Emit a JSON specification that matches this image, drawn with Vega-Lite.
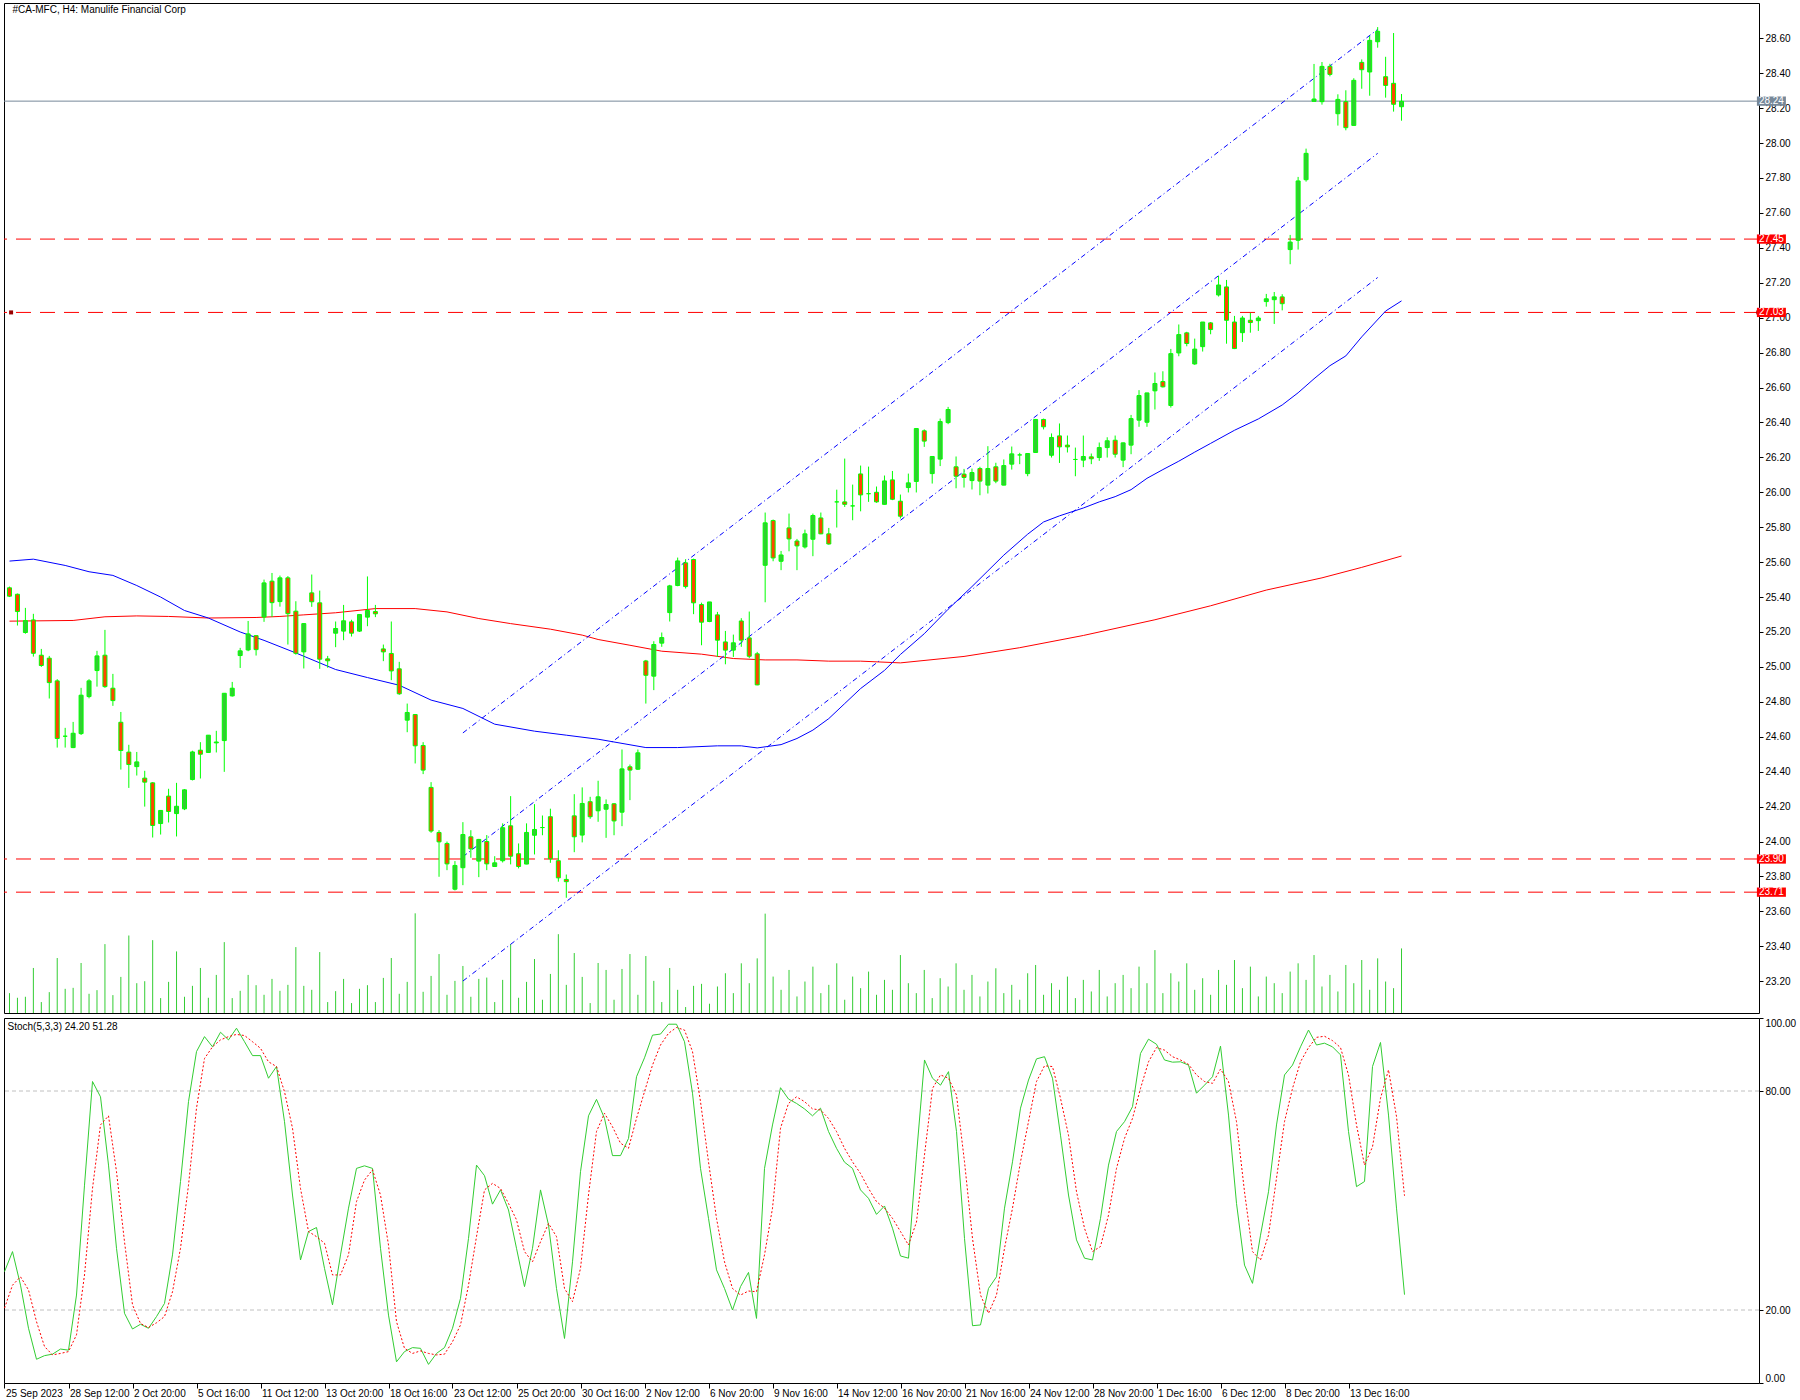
{
  "$schema": "https://vega.github.io/schema/vega-lite/v6.json",
  "background": "white",
  "padding": {"left": 2, "top": 2, "right": 0, "bottom": 0},
  "spacing": 3,
  "config": {
    "view": {"stroke": "#000000", "strokeWidth": 1},
    "axis": {"labelFont": "Liberation Sans", "labelFontSize": 10, "labelColor": "#000000", "tickColor": "#000000", "domain": false, "grid": false, "labelOverlap": false},
    "text": {"font": "Liberation Sans"}
  },
  "datasets": {
    "bars": [
      {"i":0,"o":25.453,"h":25.46,"l":25.40,"c":25.405,"v":60,"k":30.5,"d":20.5},
      {"i":1,"o":25.416,"h":25.42,"l":25.237,"c":25.317,"v":46,"k":36.0,"d":26.8},
      {"i":2,"o":25.197,"h":25.338,"l":25.19,"c":25.265,"v":49,"k":26.8,"d":29.1},
      {"i":3,"o":25.269,"h":25.304,"l":25.059,"c":25.078,"v":136,"k":15.0,"d":25.5},
      {"i":4,"o":25.067,"h":25.103,"l":25.0,"c":25.008,"v":33,"k":6.5,"d":16.8},
      {"i":5,"o":25.05,"h":25.063,"l":24.819,"c":24.91,"v":63,"k":7.5,"d":10.0},
      {"i":6,"o":24.92,"h":24.93,"l":24.538,"c":24.59,"v":166,"k":7.9,"d":7.7},
      {"i":7,"o":24.603,"h":24.651,"l":24.538,"c":24.603,"v":73,"k":9.3,"d":8.1},
      {"i":8,"o":24.538,"h":24.685,"l":24.535,"c":24.62,"v":76,"k":9.0,"d":8.6},
      {"i":9,"o":24.618,"h":24.88,"l":24.61,"c":24.838,"v":151,"k":24.1,"d":13.2},
      {"i":10,"o":24.83,"h":24.93,"l":24.82,"c":24.92,"v":58,"k":54.2,"d":29.6},
      {"i":11,"o":24.979,"h":25.092,"l":24.887,"c":25.063,"v":69,"k":82.6,"d":53.3},
      {"i":12,"o":25.067,"h":25.212,"l":24.88,"c":24.887,"v":208,"k":78.4,"d":70.7},
      {"i":13,"o":24.878,"h":24.96,"l":24.777,"c":24.807,"v":54,"k":59.7,"d":73.2},
      {"i":14,"o":24.683,"h":24.742,"l":24.412,"c":24.521,"v":109,"k":36.9,"d":57.9},
      {"i":15,"o":24.512,"h":24.554,"l":24.307,"c":24.441,"v":234,"k":19.1,"d":38.7},
      {"i":16,"o":24.429,"h":24.513,"l":24.378,"c":24.456,"v":90,"k":14.8,"d":21.4},
      {"i":17,"o":24.363,"h":24.405,"l":24.2,"c":24.34,"v":96,"k":16.1,"d":16.3},
      {"i":18,"o":24.336,"h":24.34,"l":24.023,"c":24.092,"v":220,"k":15.0,"d":15.2},
      {"i":19,"o":24.103,"h":24.18,"l":24.04,"c":24.178,"v":45,"k":18.2,"d":16.5},
      {"i":20,"o":24.26,"h":24.302,"l":24.109,"c":24.172,"v":94,"k":21.8,"d":18.2},
      {"i":21,"o":24.16,"h":24.336,"l":24.029,"c":24.202,"v":186,"k":35.1,"d":25.0},
      {"i":22,"o":24.187,"h":24.30,"l":24.18,"c":24.296,"v":49,"k":55.2,"d":36.9},
      {"i":23,"o":24.355,"h":24.52,"l":24.35,"c":24.513,"v":82,"k":77.1,"d":54.2},
      {"i":24,"o":24.523,"h":24.569,"l":24.361,"c":24.5,"v":136,"k":90.8,"d":75.3},
      {"i":25,"o":24.51,"h":24.61,"l":24.51,"c":24.609,"v":46,"k":94.9,"d":88.9},
      {"i":26,"o":24.565,"h":24.634,"l":24.51,"c":24.57,"v":115,"k":92.1,"d":92.1},
      {"i":27,"o":24.578,"h":24.85,"l":24.399,"c":24.849,"v":214,"k":96.1,"d":94.0},
      {"i":28,"o":24.834,"h":24.914,"l":24.83,"c":24.878,"v":45,"k":94.0,"d":94.9},
      {"i":29,"o":25.065,"h":25.109,"l":24.994,"c":25.092,"v":67,"k":97.2,"d":95.5},
      {"i":30,"o":25.097,"h":25.263,"l":25.09,"c":25.189,"v":115,"k":93.5,"d":95.2},
      {"i":31,"o":25.179,"h":25.18,"l":25.065,"c":25.099,"v":84,"k":89.7,"d":93.5},
      {"i":32,"o":25.286,"h":25.5,"l":25.258,"c":25.481,"v":55,"k":89.7,"d":91.7},
      {"i":33,"o":25.491,"h":25.538,"l":25.286,"c":25.368,"v":103,"k":83.5,"d":88.0},
      {"i":34,"o":25.374,"h":25.523,"l":25.345,"c":25.51,"v":67,"k":86.7,"d":86.7},
      {"i":35,"o":25.51,"h":25.52,"l":25.128,"c":25.305,"v":85,"k":71.6,"d":79.8},
      {"i":36,"o":25.319,"h":25.376,"l":25.07,"c":25.078,"v":199,"k":51.5,"d":69.8},
      {"i":37,"o":25.086,"h":25.25,"l":24.991,"c":25.248,"v":82,"k":33.7,"d":53.3},
      {"i":38,"o":25.424,"h":25.529,"l":25.344,"c":25.373,"v":70,"k":41.5,"d":41.5},
      {"i":39,"o":25.367,"h":25.437,"l":24.989,"c":25.044,"v":184,"k":42.6,"d":40.1},
      {"i":40,"o":25.046,"h":25.063,"l":24.995,"c":25.035,"v":33,"k":31.4,"d":38.3},
      {"i":41,"o":25.193,"h":25.26,"l":25.113,"c":25.22,"v":66,"k":21.4,"d":29.6},
      {"i":42,"o":25.205,"h":25.355,"l":25.153,"c":25.264,"v":103,"k":35.1,"d":29.6},
      {"i":43,"o":25.258,"h":25.27,"l":25.174,"c":25.193,"v":30,"k":47.9,"d":35.1},
      {"i":44,"o":25.205,"h":25.30,"l":25.2,"c":25.30,"v":73,"k":58.8,"d":49.7},
      {"i":45,"o":25.285,"h":25.518,"l":25.233,"c":25.323,"v":84,"k":59.5,"d":55.6},
      {"i":46,"o":25.317,"h":25.355,"l":25.285,"c":25.304,"v":33,"k":58.8,"d":58.4},
      {"i":47,"o":25.103,"h":25.128,"l":25.033,"c":25.086,"v":106,"k":36.9,"d":51.5},
      {"i":48,"o":25.077,"h":25.26,"l":24.924,"c":24.977,"v":166,"k":18.6,"d":37.8},
      {"i":49,"o":24.989,"h":25.029,"l":24.84,"c":24.846,"v":58,"k":5.8,"d":16.8},
      {"i":50,"o":24.695,"h":24.79,"l":24.626,"c":24.739,"v":94,"k":8.6,"d":9.5},
      {"i":51,"o":24.727,"h":24.73,"l":24.447,"c":24.548,"v":301,"k":9.7,"d":8.1},
      {"i":52,"o":24.55,"h":24.569,"l":24.386,"c":24.409,"v":64,"k":9.5,"d":8.8},
      {"i":53,"o":24.31,"h":24.34,"l":24.05,"c":24.06,"v":112,"k":5.1,"d":8.1},
      {"i":54,"o":24.052,"h":24.065,"l":23.798,"c":23.998,"v":178,"k":8.1,"d":7.7},
      {"i":55,"o":23.989,"h":24.0,"l":23.836,"c":23.872,"v":55,"k":9.7,"d":7.9},
      {"i":56,"o":23.727,"h":23.888,"l":23.72,"c":23.863,"v":97,"k":15.0,"d":11.3},
      {"i":57,"o":23.85,"h":24.111,"l":23.75,"c":24.04,"v":142,"k":23.2,"d":15.9},
      {"i":58,"o":24.027,"h":24.065,"l":23.907,"c":23.958,"v":49,"k":39.6,"d":26.8},
      {"i":59,"o":23.888,"h":24.015,"l":23.796,"c":24.012,"v":103,"k":59.7,"d":40.1},
      {"i":60,"o":24.0,"h":24.037,"l":23.836,"c":23.872,"v":107,"k":56.8,"d":52.9},
      {"i":61,"o":23.857,"h":23.916,"l":23.855,"c":23.878,"v":33,"k":49.0,"d":54.7},
      {"i":62,"o":23.89,"h":24.104,"l":23.88,"c":24.079,"v":100,"k":52.9,"d":53.3},
      {"i":63,"o":24.09,"h":24.26,"l":23.869,"c":23.916,"v":208,"k":47.4,"d":49.2},
      {"i":64,"o":23.93,"h":23.989,"l":23.846,"c":23.857,"v":46,"k":36.9,"d":44.7},
      {"i":65,"o":23.871,"h":24.104,"l":23.87,"c":24.052,"v":94,"k":26.4,"d":36.0},
      {"i":66,"o":24.036,"h":24.214,"l":23.926,"c":24.069,"v":163,"k":36.9,"d":33.2},
      {"i":67,"o":24.08,"h":24.149,"l":24.036,"c":24.08,"v":40,"k":52.9,"d":38.7},
      {"i":68,"o":24.142,"h":24.188,"l":23.878,"c":23.901,"v":118,"k":43.3,"d":43.7},
      {"i":69,"o":23.89,"h":23.95,"l":23.77,"c":23.792,"v":238,"k":25.9,"d":40.1},
      {"i":70,"o":23.783,"h":23.811,"l":23.678,"c":23.77,"v":85,"k":12.2,"d":25.9},
      {"i":71,"o":24.147,"h":24.271,"l":23.939,"c":24.027,"v":181,"k":33.2,"d":22.3},
      {"i":72,"o":24.037,"h":24.31,"l":23.995,"c":24.218,"v":109,"k":57.9,"d":31.4},
      {"i":73,"o":24.228,"h":24.256,"l":24.13,"c":24.142,"v":30,"k":73.2,"d":51.5},
      {"i":74,"o":24.176,"h":24.348,"l":24.113,"c":24.256,"v":151,"k":77.7,"d":68.9},
      {"i":75,"o":24.185,"h":24.241,"l":24.021,"c":24.212,"v":130,"k":72.5,"d":73.9},
      {"i":76,"o":24.216,"h":24.22,"l":24.036,"c":24.118,"v":40,"k":62.3,"d":70.2},
      {"i":77,"o":24.168,"h":24.527,"l":24.088,"c":24.416,"v":133,"k":62.3,"d":65.7},
      {"i":78,"o":24.428,"h":24.441,"l":24.237,"c":24.409,"v":178,"k":67.0,"d":64.3},
      {"i":79,"o":24.414,"h":24.527,"l":24.41,"c":24.508,"v":55,"k":83.9,"d":72.5},
      {"i":80,"o":25.034,"h":25.04,"l":24.79,"c":24.952,"v":172,"k":89.1,"d":79.8},
      {"i":81,"o":24.947,"h":25.147,"l":24.867,"c":25.128,"v":97,"k":95.3,"d":87.1},
      {"i":82,"o":25.136,"h":25.197,"l":25.115,"c":25.168,"v":33,"k":95.6,"d":92.6},
      {"i":83,"o":25.311,"h":25.47,"l":25.26,"c":25.464,"v":136,"k":98.3,"d":95.8},
      {"i":84,"o":25.466,"h":25.626,"l":25.462,"c":25.607,"v":70,"k":98.3,"d":97.4},
      {"i":85,"o":25.596,"h":25.617,"l":25.449,"c":25.46,"v":18,"k":93.5,"d":96.7},
      {"i":86,"o":25.615,"h":25.62,"l":25.302,"c":25.367,"v":82,"k":79.4,"d":90.8},
      {"i":87,"o":25.357,"h":25.368,"l":25.124,"c":25.256,"v":88,"k":58.8,"d":77.1},
      {"i":88,"o":25.26,"h":25.372,"l":25.256,"c":25.372,"v":28,"k":45.1,"d":60.6},
      {"i":89,"o":25.298,"h":25.315,"l":25.057,"c":25.153,"v":80,"k":31.0,"d":45.1},
      {"i":90,"o":25.143,"h":25.206,"l":25.015,"c":25.096,"v":120,"k":25.9,"d":33.2},
      {"i":91,"o":25.096,"h":25.185,"l":25.057,"c":25.138,"v":60,"k":20.0,"d":25.9},
      {"i":92,"o":25.263,"h":25.279,"l":25.115,"c":25.153,"v":150,"k":26.4,"d":24.1},
      {"i":93,"o":25.166,"h":25.317,"l":25.05,"c":25.061,"v":90,"k":30.3,"d":25.2},
      {"i":94,"o":25.075,"h":25.086,"l":24.895,"c":24.897,"v":165,"k":17.7,"d":25.0},
      {"i":95,"o":25.582,"h":25.884,"l":25.37,"c":25.825,"v":300,"k":58.8,"d":35.1},
      {"i":96,"o":25.838,"h":25.844,"l":25.605,"c":25.624,"v":110,"k":70.7,"d":47.9},
      {"i":97,"o":25.605,"h":25.664,"l":25.554,"c":25.641,"v":70,"k":80.9,"d":69.8},
      {"i":98,"o":25.796,"h":25.878,"l":25.662,"c":25.733,"v":130,"k":77.8,"d":76.6},
      {"i":99,"o":25.721,"h":25.733,"l":25.554,"c":25.693,"v":50,"k":76.6,"d":78.4},
      {"i":100,"o":25.687,"h":25.786,"l":25.678,"c":25.762,"v":95,"k":75.1,"d":77.1},
      {"i":101,"o":25.731,"h":25.878,"l":25.634,"c":25.867,"v":140,"k":73.2,"d":75.1},
      {"i":102,"o":25.853,"h":25.884,"l":25.76,"c":25.762,"v":60,"k":75.3,"d":74.8},
      {"i":103,"o":25.762,"h":25.796,"l":25.70,"c":25.704,"v":85,"k":68.9,"d":72.5},
      {"i":104,"o":25.945,"h":26.015,"l":25.798,"c":25.945,"v":150,"k":64.3,"d":68.9},
      {"i":105,"o":25.945,"h":26.193,"l":25.916,"c":25.931,"v":40,"k":60.5,"d":64.3},
      {"i":106,"o":25.922,"h":26.044,"l":25.84,"c":25.922,"v":110,"k":58.8,"d":60.6},
      {"i":107,"o":26.105,"h":26.153,"l":25.891,"c":25.985,"v":75,"k":52.9,"d":57.4},
      {"i":108,"o":25.992,"h":26.147,"l":25.945,"c":25.992,"v":125,"k":50.6,"d":53.3},
      {"i":109,"o":26.0,"h":26.033,"l":25.94,"c":25.945,"v":55,"k":46.2,"d":49.7},
      {"i":110,"o":25.931,"h":26.096,"l":25.93,"c":26.065,"v":100,"k":48.5,"d":47.9},
      {"i":111,"o":26.071,"h":26.122,"l":25.955,"c":25.96,"v":70,"k":42.4,"d":45.1},
      {"i":112,"o":25.949,"h":25.987,"l":25.85,"c":25.863,"v":175,"k":34.8,"d":41.5},
      {"i":113,"o":26.027,"h":26.107,"l":25.999,"c":26.054,"v":90,"k":34.2,"d":37.8},
      {"i":114,"o":26.062,"h":26.365,"l":25.999,"c":26.365,"v":60,"k":62.5,"d":44.1},
      {"i":115,"o":26.352,"h":26.36,"l":26.26,"c":26.293,"v":130,"k":88.5,"d":62.5},
      {"i":116,"o":26.107,"h":26.205,"l":26.05,"c":26.205,"v":45,"k":83.5,"d":80.7},
      {"i":117,"o":26.19,"h":26.422,"l":26.15,"c":26.405,"v":105,"k":81.6,"d":84.4},
      {"i":118,"o":26.399,"h":26.489,"l":26.39,"c":26.474,"v":80,"k":85.3,"d":83.5},
      {"i":119,"o":26.146,"h":26.205,"l":26.023,"c":26.092,"v":150,"k":68.9,"d":78.9},
      {"i":120,"o":26.104,"h":26.134,"l":26.027,"c":26.085,"v":70,"k":39.6,"d":60.6},
      {"i":121,"o":26.067,"h":26.136,"l":26.016,"c":26.113,"v":115,"k":15.7,"d":39.6},
      {"i":122,"o":26.136,"h":26.146,"l":25.983,"c":26.064,"v":50,"k":15.9,"d":24.1},
      {"i":123,"o":26.041,"h":26.264,"l":25.993,"c":26.136,"v":95,"k":25.9,"d":19.1},
      {"i":124,"o":26.146,"h":26.169,"l":26.052,"c":26.064,"v":135,"k":29.1,"d":24.1},
      {"i":125,"o":26.041,"h":26.188,"l":26.04,"c":26.153,"v":60,"k":47.9,"d":36.9},
      {"i":126,"o":26.161,"h":26.262,"l":26.13,"c":26.22,"v":85,"k":60.6,"d":47.9},
      {"i":127,"o":26.214,"h":26.226,"l":26.161,"c":26.214,"v":40,"k":75.3,"d":60.6},
      {"i":128,"o":26.107,"h":26.222,"l":26.092,"c":26.222,"v":120,"k":83.0,"d":71.6},
      {"i":129,"o":26.228,"h":26.42,"l":26.228,"c":26.417,"v":145,"k":88.8,"d":82.6},
      {"i":130,"o":26.417,"h":26.422,"l":26.36,"c":26.375,"v":55,"k":89.4,"d":86.9},
      {"i":131,"o":26.212,"h":26.337,"l":26.199,"c":26.314,"v":90,"k":83.5,"d":86.7},
      {"i":132,"o":26.323,"h":26.394,"l":26.168,"c":26.26,"v":70,"k":67.9,"d":78.0},
      {"i":133,"o":26.27,"h":26.325,"l":26.228,"c":26.26,"v":110,"k":51.5,"d":67.9},
      {"i":134,"o":26.188,"h":26.256,"l":26.092,"c":26.188,"v":45,"k":39.2,"d":52.4},
      {"i":135,"o":26.184,"h":26.325,"l":26.144,"c":26.205,"v":100,"k":34.2,"d":42.4},
      {"i":136,"o":26.203,"h":26.222,"l":26.161,"c":26.192,"v":65,"k":33.7,"d":36.0},
      {"i":137,"o":26.199,"h":26.285,"l":26.18,"c":26.256,"v":130,"k":45.1,"d":37.4},
      {"i":138,"o":26.256,"h":26.315,"l":26.199,"c":26.295,"v":50,"k":59.7,"d":46.0},
      {"i":139,"o":26.298,"h":26.325,"l":26.199,"c":26.218,"v":90,"k":68.9,"d":58.8},
      {"i":140,"o":26.184,"h":26.285,"l":26.144,"c":26.283,"v":115,"k":71.6,"d":67.0},
      {"i":141,"o":26.27,"h":26.443,"l":26.218,"c":26.422,"v":75,"k":75.7,"d":72.5},
      {"i":142,"o":26.413,"h":26.585,"l":26.375,"c":26.554,"v":140,"k":90.3,"d":80.7},
      {"i":143,"o":26.401,"h":26.57,"l":26.375,"c":26.569,"v":90,"k":94.2,"d":88.0},
      {"i":144,"o":26.581,"h":26.686,"l":26.474,"c":26.623,"v":190,"k":92.8,"d":91.9},
      {"i":145,"o":26.634,"h":26.693,"l":26.6,"c":26.604,"v":60,"k":88.5,"d":91.2},
      {"i":146,"o":26.497,"h":26.821,"l":26.485,"c":26.794,"v":120,"k":87.9,"d":89.4},
      {"i":147,"o":26.798,"h":26.961,"l":26.779,"c":26.903,"v":95,"k":88.0,"d":88.5},
      {"i":148,"o":26.913,"h":26.919,"l":26.836,"c":26.852,"v":150,"k":87.1,"d":87.3},
      {"i":149,"o":26.735,"h":26.88,"l":26.73,"c":26.82,"v":70,"k":79.4,"d":84.4},
      {"i":150,"o":26.834,"h":26.975,"l":26.806,"c":26.975,"v":105,"k":81.6,"d":82.6},
      {"i":151,"o":26.97,"h":26.975,"l":26.905,"c":26.932,"v":55,"k":83.9,"d":82.1},
      {"i":152,"o":27.13,"h":27.239,"l":27.121,"c":27.187,"v":130,"k":92.3,"d":86.0},
      {"i":153,"o":27.176,"h":27.216,"l":26.851,"c":26.985,"v":85,"k":73.4,"d":82.6},
      {"i":154,"o":26.975,"h":27.01,"l":26.82,"c":26.823,"v":160,"k":49.2,"d":71.6},
      {"i":155,"o":26.914,"h":27.01,"l":26.861,"c":26.998,"v":75,"k":32.3,"d":52.4},
      {"i":156,"o":26.985,"h":27.027,"l":26.914,"c":26.972,"v":140,"k":27.3,"d":36.0},
      {"i":157,"o":26.983,"h":27.01,"l":26.924,"c":26.998,"v":50,"k":40.5,"d":33.7},
      {"i":158,"o":27.092,"h":27.136,"l":27.063,"c":27.108,"v":110,"k":52.4,"d":40.5},
      {"i":159,"o":27.103,"h":27.147,"l":26.964,"c":27.119,"v":90,"k":70.7,"d":56.1},
      {"i":160,"o":27.119,"h":27.134,"l":27.042,"c":27.08,"v":60,"k":84.4,"d":71.6},
      {"i":161,"o":27.39,"h":27.474,"l":27.306,"c":27.433,"v":125,"k":87.1,"d":80.7},
      {"i":162,"o":27.443,"h":27.806,"l":27.39,"c":27.783,"v":150,"k":92.1,"d":88.0},
      {"i":163,"o":27.79,"h":27.968,"l":27.779,"c":27.941,"v":100,"k":96.7,"d":91.9},
      {"i":164,"o":28.239,"h":28.453,"l":28.239,"c":28.252,"v":175,"k":92.6,"d":94.7},
      {"i":165,"o":28.237,"h":28.464,"l":28.22,"c":28.439,"v":80,"k":93.1,"d":95.0},
      {"i":166,"o":28.439,"h":28.454,"l":28.382,"c":28.393,"v":115,"k":92.1,"d":93.8},
      {"i":167,"o":28.168,"h":28.279,"l":28.1,"c":28.25,"v":65,"k":89.9,"d":91.9},
      {"i":168,"o":28.237,"h":28.302,"l":28.073,"c":28.088,"v":145,"k":68.9,"d":84.4},
      {"i":169,"o":28.101,"h":28.371,"l":28.1,"c":28.359,"v":90,"k":53.8,"d":70.7},
      {"i":170,"o":28.462,"h":28.479,"l":28.311,"c":28.42,"v":160,"k":55.2,"d":59.7},
      {"i":171,"o":28.407,"h":28.613,"l":28.271,"c":28.588,"v":70,"k":86.7,"d":64.7},
      {"i":172,"o":28.58,"h":28.664,"l":28.546,"c":28.64,"v":165,"k":93.3,"d":78.0},
      {"i":173,"o":28.38,"h":28.494,"l":28.26,"c":28.33,"v":95,"k":73.4,"d":85.8},
      {"i":174,"o":28.342,"h":28.63,"l":28.18,"c":28.222,"v":75,"k":47.9,"d":73.0},
      {"i":175,"o":28.208,"h":28.281,"l":28.128,"c":28.239,"v":195,"k":24.2,"d":51.3}
    ],
    "ma": [
      {"ma":"fast","i":0,"p":25.606},{"ma":"fast","i":3,"p":25.617},{"ma":"fast","i":7,"p":25.581},
      {"ma":"fast","i":10,"p":25.545},{"ma":"fast","i":13,"p":25.524},{"ma":"fast","i":16,"p":25.466},
      {"ma":"fast","i":19,"p":25.40},{"ma":"fast","i":22,"p":25.323},{"ma":"fast","i":25,"p":25.28},
      {"ma":"fast","i":29,"p":25.20},{"ma":"fast","i":32,"p":25.152},{"ma":"fast","i":36,"p":25.08},
      {"ma":"fast","i":41,"p":24.985},{"ma":"fast","i":45,"p":24.939},{"ma":"fast","i":49,"p":24.895},
      {"ma":"fast","i":53,"p":24.81},{"ma":"fast","i":57,"p":24.762},{"ma":"fast","i":61,"p":24.672},
      {"ma":"fast","i":66,"p":24.632},{"ma":"fast","i":70,"p":24.609},{"ma":"fast","i":74,"p":24.586},
      {"ma":"fast","i":80,"p":24.538},{"ma":"fast","i":84,"p":24.538},{"ma":"fast","i":89,"p":24.548},
      {"ma":"fast","i":92,"p":24.548},{"ma":"fast","i":94,"p":24.536},{"ma":"fast","i":97,"p":24.555},
      {"ma":"fast","i":99,"p":24.59},{"ma":"fast","i":101,"p":24.638},{"ma":"fast","i":103,"p":24.704},
      {"ma":"fast","i":105,"p":24.79},{"ma":"fast","i":107,"p":24.876},{"ma":"fast","i":110,"p":24.98},
      {"ma":"fast","i":112,"p":25.071},{"ma":"fast","i":115,"p":25.19},{"ma":"fast","i":118,"p":25.33},
      {"ma":"fast","i":121,"p":25.46},{"ma":"fast","i":123,"p":25.55},{"ma":"fast","i":125,"p":25.64},
      {"ma":"fast","i":128,"p":25.76},{"ma":"fast","i":130,"p":25.83},{"ma":"fast","i":132,"p":25.865},
      {"ma":"fast","i":135,"p":25.91},{"ma":"fast","i":137,"p":25.945},{"ma":"fast","i":139,"p":25.975},
      {"ma":"fast","i":141,"p":26.015},{"ma":"fast","i":143,"p":26.08},{"ma":"fast","i":145,"p":26.13},
      {"ma":"fast","i":147,"p":26.178},{"ma":"fast","i":149,"p":26.23},{"ma":"fast","i":151,"p":26.28},
      {"ma":"fast","i":154,"p":26.355},{"ma":"fast","i":157,"p":26.42},{"ma":"fast","i":160,"p":26.5},
      {"ma":"fast","i":162,"p":26.57},{"ma":"fast","i":164,"p":26.65},{"ma":"fast","i":166,"p":26.725},
      {"ma":"fast","i":168,"p":26.781},{"ma":"fast","i":170,"p":26.89},{"ma":"fast","i":173,"p":27.038},
      {"ma":"fast","i":175,"p":27.096},
      {"ma":"slow","i":0,"p":25.262},{"ma":"slow","i":8,"p":25.266},{"ma":"slow","i":12,"p":25.287},
      {"ma":"slow","i":16,"p":25.292},{"ma":"slow","i":20,"p":25.289},{"ma":"slow","i":25,"p":25.28},
      {"ma":"slow","i":31,"p":25.283},{"ma":"slow","i":34,"p":25.289},{"ma":"slow","i":37,"p":25.298},
      {"ma":"slow","i":41,"p":25.31},{"ma":"slow","i":46,"p":25.334},{"ma":"slow","i":51,"p":25.334},
      {"ma":"slow","i":55,"p":25.315},{"ma":"slow","i":59,"p":25.277},{"ma":"slow","i":63,"p":25.248},
      {"ma":"slow","i":68,"p":25.216},{"ma":"slow","i":72,"p":25.182},{"ma":"slow","i":74,"p":25.157},
      {"ma":"slow","i":78,"p":25.124},{"ma":"slow","i":82,"p":25.09},{"ma":"slow","i":87,"p":25.073},
      {"ma":"slow","i":91,"p":25.048},{"ma":"slow","i":95,"p":25.04},{"ma":"slow","i":99,"p":25.04},
      {"ma":"slow","i":103,"p":25.033},{"ma":"slow","i":107,"p":25.033},{"ma":"slow","i":112,"p":25.023},
      {"ma":"slow","i":120,"p":25.06},{"ma":"slow","i":127,"p":25.11},{"ma":"slow","i":135,"p":25.18},
      {"ma":"slow","i":144,"p":25.27},{"ma":"slow","i":151,"p":25.35},{"ma":"slow","i":158,"p":25.44},
      {"ma":"slow","i":165,"p":25.51},{"ma":"slow","i":170,"p":25.57},{"ma":"slow","i":175,"p":25.635}
    ],
    "channel": [
      {"line":"upper","i":57,"p":24.622},{"line":"upper","i":172,"p":28.651},
      {"line":"middle","i":57,"p":23.913},{"line":"middle","i":172,"p":27.941},
      {"line":"lower","i":57,"p":23.201},{"line":"lower","i":172,"p":27.23}
    ],
    "levels": [
      {"p":27.45,"kind":"line"},
      {"p":27.03,"kind":"line"},
      {"p":23.90,"kind":"line"},
      {"p":23.71,"kind":"line"},
      {"p":28.24,"kind":"bid"}
    ]
  },
  "vconcat": [
    {
      "width": 1755,
      "height": 1010,
      "resolve": {"scale": {"y": "independent"}},
      "layer": [
        {
          "data": {"name": "bars"},
          "mark": {"type": "rule", "stroke": "#32cd32", "strokeWidth": 1},
          "encoding": {
            "x": {"field": "i", "type": "quantitative", "scale": {"domain": [-0.0625, 219.3125], "nice": false, "zero": false}, "axis": null},
            "y": {"field": "v", "type": "quantitative", "scale": {"domain": [0, 3050], "nice": false}, "axis": null},
            "y2": {"datum": 0}
          }
        },
        {
          "encoding": {
            "y": {"type": "quantitative", "title": null,
              "scale": {"domain": [23.018, 28.802], "nice": false, "zero": false},
              "axis": {"orient": "right", "values": [23.2,23.4,23.6,23.8,24.0,24.2,24.4,24.6,24.8,25.0,25.2,25.4,25.6,25.8,26.0,26.2,26.4,26.6,26.8,27.0,27.2,27.4,27.6,27.8,28.0,28.2,28.4,28.6], "format": ".2f", "tickSize": 4, "labelPadding": 2, "labelOverlap": false, "labelBound": false, "labelFlush": false, "labelSeparation": 0}}
          },
          "layer": [
            {
              "data": {"name": "levels"},
              "transform": [{"filter": "datum.kind == 'line'"}],
              "mark": {"type": "rule", "stroke": "#ff0000", "strokeWidth": 1, "strokeDash": [15, 9]},
              "encoding": {
                "y": {"field": "p"}
              }
            },
            {
              "data": {"name": "levels"},
              "transform": [{"filter": "datum.kind == 'bid'"}],
              "mark": {"type": "rule", "stroke": "#778899", "strokeWidth": 1},
              "encoding": {
                "y": {"field": "p"}
              }
            },
            {
              "data": {"name": "ma"},
              "transform": [{"filter": "datum.ma == 'slow'"}],
              "mark": {"type": "line", "stroke": "#ff0000", "strokeWidth": 1},
              "encoding": {
                "x": {"field": "i", "type": "quantitative", "scale": {"domain": [-0.0625, 219.3125], "nice": false, "zero": false}, "axis": null},
                "y": {"field": "p"}
              }
            },
            {
              "data": {"name": "ma"},
              "transform": [{"filter": "datum.ma == 'fast'"}],
              "mark": {"type": "line", "stroke": "#0000ff", "strokeWidth": 1},
              "encoding": {
                "x": {"field": "i", "type": "quantitative", "scale": {"domain": [-0.0625, 219.3125], "nice": false, "zero": false}, "axis": null},
                "y": {"field": "p"}
              }
            },
            {
              "data": {"name": "channel"},
              "mark": {"type": "line", "stroke": "#0000ff", "strokeWidth": 1, "strokeDash": [5, 3, 1, 3]},
              "encoding": {
                "x": {"field": "i", "type": "quantitative", "scale": {"domain": [-0.0625, 219.3125], "nice": false, "zero": false}, "axis": null},
                "y": {"field": "p"},
                "detail": {"field": "line", "type": "nominal"}
              }
            },
            {
              "data": {"name": "bars"},
              "mark": {"type": "rule", "stroke": "#00ff00", "strokeWidth": 1},
              "encoding": {
                "x": {"field": "i", "type": "quantitative", "scale": {"domain": [-0.0625, 219.3125], "nice": false, "zero": false}, "axis": null},
                "y": {"field": "l"},
                "y2": {"field": "h"}
              }
            },
            {
              "data": {"name": "bars"},
              "mark": {"type": "bar", "width": 4, "stroke": "#00ff00", "strokeWidth": 1, "fillOpacity": 1},
              "encoding": {
                "x": {"field": "i", "type": "quantitative", "scale": {"domain": [-0.0625, 219.3125], "nice": false, "zero": false}, "axis": null},
                "y": {"field": "o"},
                "y2": {"field": "c"},
                "fill": {"condition": {"test": "datum.c >= datum.o", "value": "#32cd32"}, "value": "#ff4500"}
              }
            },
            {
              "data": {"name": "levels"},
              "transform": [{"filter": "datum.p == 27.03"}],
              "mark": {"type": "point", "shape": "square", "size": 16, "filled": true, "fill": "#990000", "opacity": 1},
              "encoding": {
                "x": {"datum": 0.2},
                "y": {"field": "p"}
              }
            },
            {
              "data": {"name": "levels"},
              "transform": [{"filter": "datum.p == 27.03"}],
              "mark": {"type": "point", "shape": "square", "size": 16, "filled": true, "fill": "#990000", "opacity": 1},
              "encoding": {
                "x": {"datum": 219.85},
                "y": {"field": "p"}
              }
            },
            {
              "data": {"name": "levels"},
              "transform": [{"filter": "datum.kind == 'line'"}],
              "mark": {"type": "point", "shape": "M-1,-0.32L1,-0.32L1,0.32L-1,0.32Z", "size": 841, "filled": true, "fill": "#ff0000", "opacity": 1, "strokeWidth": 0},
              "encoding": {
                "x": {"datum": 221.5},
                "y": {"field": "p"}
              }
            },
            {
              "data": {"name": "levels"},
              "transform": [{"filter": "datum.kind == 'bid'"}],
              "mark": {"type": "point", "shape": "M-1,-0.32L1,-0.32L1,0.32L-1,0.32Z", "size": 841, "filled": true, "fill": "#778899", "opacity": 1, "strokeWidth": 0},
              "encoding": {
                "x": {"datum": 221.5},
                "y": {"field": "p"}
              }
            },
            {
              "data": {"name": "levels"},
              "mark": {"type": "text", "fill": "#ffffff", "fontSize": 10, "align": "center", "baseline": "middle", "font": "Liberation Sans"},
              "encoding": {
                "x": {"datum": 221.5},
                "y": {"field": "p"},
                "text": {"field": "p", "type": "quantitative", "format": ".2f"}
              }
            },
            {
              "data": {"values": [{"name": "#CA-MFC, H4:  Manulife Financial Corp", "p": 28.762}]},
              "mark": {"type": "text", "fill": "#000000", "fontSize": 10, "align": "left", "baseline": "middle", "dx": 3, "font": "Liberation Sans"},
              "encoding": {
                "x": {"datum": 0},
                "y": {"field": "p"},
                "text": {"field": "name"}
              }
            }
          ]
        }
      ]
    },
    {
      "width": 1755,
      "height": 365,
      "layer": [
        {
          "data": {"values": [{"lvl": 80}, {"lvl": 20}]},
          "mark": {"type": "rule", "stroke": "#c0c0c0", "strokeWidth": 1, "strokeDash": [4, 3]},
          "encoding": {
            "y": {"field": "lvl", "type": "quantitative", "title": null,
              "scale": {"domain": [0, 100], "nice": false, "zero": false},
              "axis": {"orient": "right", "values": [0, 20, 80, 100], "format": ".2f", "tickSize": 4, "labelPadding": 2, "labelFlush": true, "labelOverlap": false}}
          }
        },
        {
          "data": {"name": "bars"},
          "mark": {"type": "line", "stroke": "#32cd32", "strokeWidth": 1},
          "encoding": {
            "x": {"field": "i", "type": "quantitative", "title": null,
              "scale": {"domain": [-0.0625, 219.3125], "nice": false, "zero": false},
              "axis": {"values": [0,8,16,24,32,40,48,56,64,72,80,88,96,104,112,120,128,136,144,152,160,168],
                "labelExpr": "['25 Sep 2023','28 Sep 12:00','2 Oct 20:00','5 Oct 16:00','11 Oct 12:00','13 Oct 20:00','18 Oct 16:00','23 Oct 12:00','25 Oct 20:00','30 Oct 16:00','2 Nov 12:00','6 Nov 20:00','9 Nov 16:00','14 Nov 12:00','16 Nov 20:00','21 Nov 16:00','24 Nov 12:00','28 Nov 20:00','1 Dec 16:00','6 Dec 12:00','8 Dec 20:00','13 Dec 16:00'][round(datum.value / 8)]",
                "labelAlign": "left", "labelBaseline": "top", "labelPadding": 0, "labelOffset": 1, "tickSize": 5, "labelFlush": false, "labelOverlap": false, "labelBound": false}},
            "y": {"field": "k", "type": "quantitative", "title": null, "scale": {"domain": [0, 100], "nice": false, "zero": false}}
          }
        },
        {
          "data": {"name": "bars"},
          "mark": {"type": "line", "stroke": "#ff0000", "strokeWidth": 1, "strokeDash": [2, 2]},
          "encoding": {
            "x": {"field": "i", "type": "quantitative", "title": null, "scale": {"domain": [-0.0625, 219.3125], "nice": false, "zero": false}},
            "y": {"field": "d", "type": "quantitative", "title": null, "scale": {"domain": [0, 100], "nice": false, "zero": false}}
          }
        },
        {
          "data": {"values": [{"name": "Stoch(5,3,3) 24.20 51.28", "lvl": 97.5}]},
          "mark": {"type": "text", "fill": "#000000", "fontSize": 10, "align": "left", "baseline": "middle", "dx": 3, "font": "Liberation Sans"},
          "encoding": {
            "x": {"datum": 0},
            "y": {"field": "lvl", "type": "quantitative", "title": null},
            "text": {"field": "name"}
          }
        }
      ]
    }
  ]
}
